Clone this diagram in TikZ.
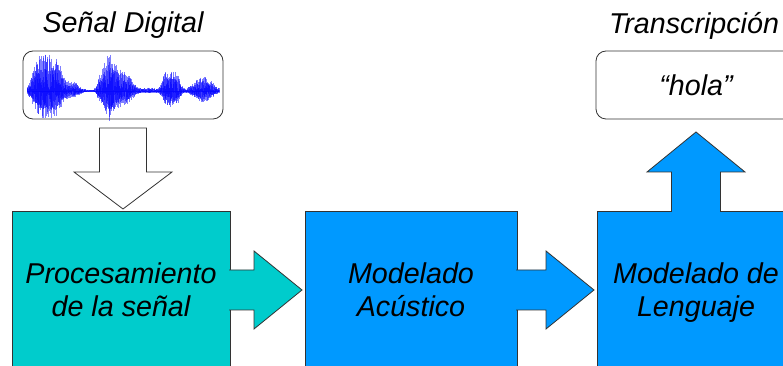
\documentclass[tikz,border=0pt]{standalone}
\usepackage{fontspec}
\setmainfont{Liberation Sans}
\usetikzlibrary{calc}
\definecolor{procteal}{RGB}{0,204,204}
\definecolor{modblue}{RGB}{0,153,255}
\definecolor{edge}{RGB}{51,51,51}

\begin{document}
\begin{tikzpicture}[x=0.75pt, y=-0.75pt,
    font=\fontsize{21.5}{24.75}\selectfont\itshape,
    stage/.style={draw=edge, line width=0.6pt, minimum height=118.5pt, inner sep=0pt, outer sep=0pt, align=center, text depth=0pt},
    textbox/.style={draw=edge, line width=0.6pt, rounded corners=7.5pt, minimum width=150pt, minimum height=51pt, inner sep=0pt, outer sep=0pt},
    blockarrow/.style={draw=edge, line width=0.6pt, line join=miter},
    wave/.style={blue, line width=0.35pt, opacity=0.5}]
    \useasboundingbox (0,0) rectangle (783,366);
    \clip (0,0) rectangle (783,366);

    \node (signal) [textbox] at (123,85) {};
    \node (signaltitle) at (123,25) {Señal Digital};
    \node (text) [textbox] at (696,85) {“hola”};
    \node (texttitle) at (694,26) {Transcripción};

    \node (proc) [stage, fill=procteal, minimum width=163.5pt] at (121,290) {Procesamiento\\de la señal};
    \node (acoustic) [stage, fill=modblue, minimum width=159pt] at (411,290) {Modelado\\Acústico};
    \node (language) [stage, fill=modblue, minimum width=148.5pt] at (696,290) {Modelado de\\Lenguaje};

    % speech waveform
    \pgfmathsetseed{12}
    \draw[wave] (27,91) -- (219,91);
    \foreach \x in {27,27.5,...,219}{
        \pgfmathsetmacro\amp{0.8 + 36*exp(-min(((\x-47)/16)^2,3)^2) + 9*exp(-min(((\x-72)/9)^2,9))
            + 10*exp(-min(((\x-100)/4)^2,9)) + 36*exp(-min(((\x-109)/7)^2,9)) + 20*exp(-min(((\x-123)/11)^2,9))
            + 2.5*exp(-min(((\x-150)/10)^2,9)) + 20*exp(-min(((\x-171)/10)^2,3)^2) + 14*exp(-min(((\x-203)/12)^2,9))}
        \draw[wave] (\x,{91-\amp*(0.45+0.55*rnd)}) -- (\x,{91+0.75*\amp*(0.45+0.55*rnd)});
        \draw[wave] (\x,{91-0.6*\amp*rnd}) -- (\x,{91+0.5*\amp*rnd});
    }

    % block arrows
    \draw[blockarrow, fill=white] ($(signal.south)+(-23.5,9)$) -- ($(signal.south |- proc.north)+(-23.5,-39)$)
        -- ($(signal.south |- proc.north)+(-49,-39)$) -- ($(signal.south |- proc.north)+(0,-2)$)
        -- ($(signal.south |- proc.north)+(49,-39)$) -- ($(signal.south |- proc.north)+(23.5,-39)$)
        -- ($(signal.south)+(23.5,9)$) -- cycle;
    \draw[blockarrow, fill=procteal] ($(proc.east)+(-1,-20)$) -- ($(acoustic.west)+(-51,-20)$)
        -- ($(acoustic.west)+(-51,-39)$) -- ($(acoustic.west)+(-3,0)$) -- ($(acoustic.west)+(-51,39)$)
        -- ($(acoustic.west)+(-51,20)$) -- ($(proc.east)+(-1,20)$);
    \draw[blockarrow, fill=modblue] ($(acoustic.east)+(-1,-20)$) -- ($(language.west)+(-51,-20)$)
        -- ($(language.west)+(-51,-39)$) -- ($(language.west)+(-3,0)$) -- ($(language.west)+(-51,39)$)
        -- ($(language.west)+(-51,20)$) -- ($(acoustic.east)+(-1,20)$);
    \draw[blockarrow, fill=modblue] ($(language.north)+(-24.5,1)$) -- ($(text.south)+(-24.5,53)$)
        -- ($(text.south)+(-49,53)$) -- ($(text.south)+(0,13)$) -- ($(text.south)+(49,53)$)
        -- ($(text.south)+(24.5,53)$) -- ($(language.north)+(24.5,1)$);
\end{tikzpicture}
\end{document}
